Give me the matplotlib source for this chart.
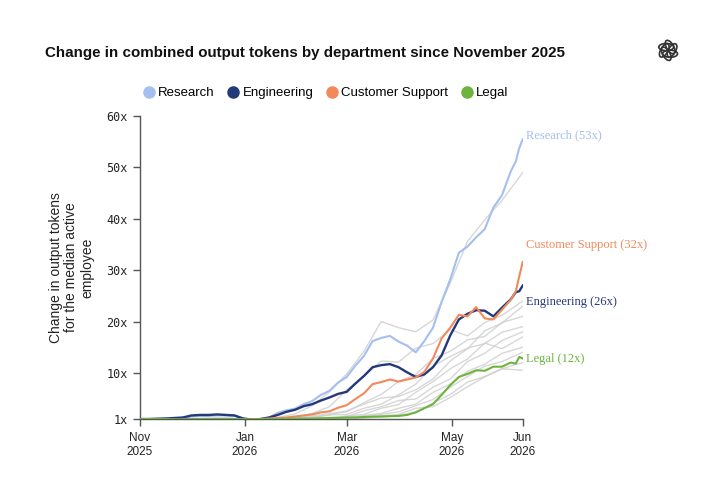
import numpy as np
import pandas as pd
import matplotlib
matplotlib.use('Agg')
import matplotlib.pyplot as plt
from matplotlib.lines import Line2D
from matplotlib.patches import Ellipse

start = pd.Timestamp('2025-11-01')

# days since Nov 1 2025
days = [0, 5, 10, 15, 20, 25, 30, 35, 40, 45, 50, 55, 60, 65, 70, 75, 80, 85, 90, 95,
        100, 105, 110, 115, 120, 125, 130, 135, 140, 145, 150, 155, 160, 165, 170, 175,
        180, 185, 190, 195, 200, 205, 210, 215, 218, 220, 222]

research = [1.0, 1.0, 1.05, 1.1, 1.1, 1.2, 1.5, 1.6, 1.6, 1.7, 1.7, 1.6, 1.1, 0.9, 1.0, 1.3,
            2.2, 2.7, 3.0, 3.9, 4.5, 5.7, 6.5, 8.1, 9.2, 11.4, 13.3, 16.2, 16.8, 17.2, 16.1,
            15.3, 14.0, 16.2, 18.8, 23.8, 28.2, 33.4, 34.6, 36.4, 38.0, 42.2, 44.6, 49.2,
            51.2, 53.8, 55.5]
engineering = [1.0, 1.0, 1.05, 1.1, 1.2, 1.3, 1.7, 1.8, 1.8, 1.9, 1.8, 1.7, 1.1, 0.9, 1.0, 1.3,
               1.8, 2.4, 2.8, 3.5, 3.9, 4.6, 5.2, 5.9, 6.3, 7.9, 9.4, 11.1, 11.5, 11.7, 11.1,
               10.1, 9.2, 9.7, 11.1, 13.4, 17.3, 20.4, 21.5, 22.2, 22.1, 21.0, 22.7, 24.3,
               25.7, 25.9, 27.0]
support = [1.0, 0.95, 0.9, 0.85, 0.85, 0.8, 0.8, 0.85, 0.8, 0.8, 0.85, 0.85, 0.9, 0.9, 1.0, 1.1,
           1.2, 1.3, 1.5, 1.7, 1.9, 2.3, 2.5, 3.2, 3.7, 4.9, 6.0, 7.8, 8.2, 8.7, 8.3,
           8.7, 9.1, 10.2, 12.8, 16.7, 18.8, 21.3, 21.0, 22.8, 20.6, 20.4, 22.3, 24.2,
           25.9, 28.8, 31.6]
legal = [1.0, 1.0, 1.0, 1.0, 0.95, 0.95, 1.0, 1.0, 1.0, 1.0, 1.0, 1.0, 0.95, 0.95, 1.0, 1.0,
         1.05, 1.05, 1.1, 1.1, 1.1, 1.15, 1.2, 1.2, 1.3, 1.3, 1.4, 1.45, 1.5, 1.55, 1.6,
         1.8, 2.3, 3.1, 3.9, 5.7, 7.6, 9.2, 9.8, 10.5, 10.4, 11.2, 11.2, 12.0,
         11.8, 13.1, 12.8]

# other departments (grey), every 10 days
gdays = [0, 10, 20, 30, 40, 50, 60, 70, 80, 90, 100, 110, 120, 130, 140, 150, 160, 170,
         180, 190, 200, 210, 222]
greys = [
    [1.0, 1.0, 1.0, 1.1, 1.2, 1.3, 1.0, 1.0, 1.3, 2.0, 3.6, 6.3, 9.8, 14.2, 20.0, 18.8, 18.0,
     20.3, 27.5, 35.6, 39.8, 43.6, 49.0],
    [1.0, 1.0, 1.0, 1.0, 1.0, 1.0, 1.0, 1.0, 1.0, 1.3, 2.1, 3.4, 6.7, 9.3, 12.3, 12.1, 14.8,
     15.7, 18.4, 17.2, 19.8, 21.2, 24.0],
    [1.0, 1.0, 1.0, 1.0, 1.0, 1.0, 0.9, 1.0, 1.1, 1.3, 1.6, 2.1, 2.4, 4.2, 5.8, 8.3, 9.7,
     12.8, 14.2, 16.4, 17.1, 19.8, 21.0],
    [1.0, 1.0, 1.0, 0.9, 0.9, 0.9, 0.9, 1.0, 1.1, 1.2, 1.4, 1.8, 1.9, 3.1, 3.9, 5.7, 7.8,
     11.3, 13.2, 14.8, 15.7, 17.9, 19.0],
    [1.0, 1.0, 1.0, 1.0, 1.0, 1.0, 1.0, 1.0, 1.0, 1.1, 1.2, 1.3, 1.6, 1.9, 3.1, 3.8, 6.2,
     8.3, 10.8, 12.7, 15.8, 14.7, 17.0],
    [1.0, 1.0, 1.0, 1.0, 1.0, 1.0, 1.0, 1.0, 1.0, 1.0, 1.1, 1.2, 1.3, 1.7, 2.1, 3.1, 3.9,
     6.2, 7.8, 10.3, 11.7, 13.8, 15.0],
    [1.0, 1.0, 1.0, 1.0, 1.0, 1.0, 1.0, 1.0, 1.0, 1.0, 1.0, 1.1, 1.2, 1.5, 1.9, 2.4, 3.6,
     4.8, 7.2, 9.3, 11.3, 12.2, 14.0],
    [1.0, 1.0, 1.0, 1.0, 1.0, 1.0, 1.0, 1.0, 1.0, 1.0, 1.0, 1.0, 1.1, 1.2, 1.4, 1.7, 2.4,
     4.1, 5.8, 8.2, 9.3, 10.8, 10.5],
    [1.0, 1.0, 1.0, 1.0, 1.0, 1.0, 1.0, 1.0, 1.0, 1.1, 1.3, 1.8, 2.6, 3.9, 5.1, 5.4, 6.7,
     8.8, 12.3, 14.7, 18.2, 19.7, 23.0],
    [1.0, 1.0, 1.0, 1.0, 1.0, 1.0, 1.0, 1.0, 1.0, 1.0, 1.1, 1.2, 1.5, 2.6, 3.4, 4.6, 4.9,
     7.2, 8.8, 12.2, 13.8, 16.3, 18.0],
    [1.0, 1.0, 1.0, 1.0, 1.0, 1.0, 1.0, 1.0, 1.0, 1.0, 1.0, 1.1, 1.2, 1.3, 1.6, 1.9, 3.1,
     3.4, 5.2, 7.3, 9.2, 10.8, 12.0],
]

names = ['Research', 'Engineering', 'Customer Support', 'Legal']
colors = ['#a4bff0', '#24397a', '#f08a5c', '#6cb43c']
end_labels = ['Research (53x)', 'Customer Support (32x)', 'Engineering (26x)', 'Legal (12x)']
end_label_colors = ['#a4bff0', '#f08a5c', '#24397a', '#6cb43c']
end_label_y = [56.3, 34.9, 23.8, 12.7]

yticks = [1, 10, 20, 30, 40, 50, 60]
ytick_labels = ['1x', '10x', '20x', '30x', '40x', '50x', '60x']
xtick_dates = ['2025-11-01', '2026-01-01', '2026-03-01', '2026-05-01', '2026-06-11']
xtick_labels = ['Nov\n2025', 'Jan\n2026', 'Mar\n2026', 'May\n2026', 'Jun\n2026']

plt.rcParams['font.family'] = ['Liberation Sans', 'DejaVu Sans']

x = [start + pd.Timedelta(days=d) for d in days]
gx = [start + pd.Timedelta(days=d) for d in gdays]

fig = plt.figure(figsize=(7.2, 4.8), dpi=100)
ax = fig.add_axes([0.194, 0.127, 0.532, 0.631])

for g in greys:
    ax.plot(gx, g, color='#cdcdcd', lw=1.0, alpha=0.8, zorder=1)

series = [research, engineering, support, legal]
widths = [1.5, 1.7, 1.5, 1.5]
for s, c, w in zip(series, colors, widths):
    ax.plot(x, s, color=c, lw=w, zorder=3)

for lab, c, yv in zip(end_labels, end_label_colors, end_label_y):
    ax.text(pd.Timestamp('2026-06-13'), yv, lab, color=c, fontsize=9,
            family=['Liberation Serif'], va='center', ha='left', clip_on=False)

ax.set_ylim(1, 60)
ax.set_xlim(pd.Timestamp('2025-11-01'), pd.Timestamp('2026-06-11'))
ax.set_yticks(yticks)
ax.set_yticklabels(ytick_labels, family=['DejaVu Sans Mono'], fontsize=8.5)
ax.set_xticks([pd.Timestamp(d) for d in xtick_dates])
ax.set_xticklabels(xtick_labels, fontsize=8.5, linespacing=1.25)
for side in ['top', 'right']:
    ax.spines[side].set_visible(False)
for side in ['left', 'bottom']:
    ax.spines[side].set_color('#555555')
    ax.spines[side].set_linewidth(1.0)
ax.tick_params(axis='both', colors='#555555', length=5, width=1.0, labelcolor='#222222')
ax.tick_params(axis='x', pad=4)

ax.set_ylabel('Change in output tokens\nfor the median active\nemployee', fontsize=10,
              color='#222222', labelpad=9, linespacing=1.15)

fig.text(0.062, 0.89, 'Change in combined output tokens by department since November 2025',
         fontsize=10.9, fontweight='bold', color='#111111', va='center')

handles = [Line2D([], [], marker='o', ls='none', markersize=8, markerfacecolor=c,
                  markeredgecolor=c) for c in colors]
fig.legend(handles, names, loc='center', bbox_to_anchor=(0.452, 0.806), ncol=4,
           frameon=False, fontsize=9.5, handletextpad=0.2, columnspacing=0.9,
           handlelength=1.0)

# small logo mark top right
lax = fig.add_axes([0.91, 0.868, 0.036, 0.054])
lax.set_xlim(-1, 1)
lax.set_ylim(-1, 1)
lax.set_aspect('equal')
lax.axis('off')
for k in range(6):
    ang = k * 60
    cx = 0.3 * np.cos(np.radians(ang))
    cy = 0.3 * np.sin(np.radians(ang))
    lax.add_patch(Ellipse((cx, cy), 1.15, 0.55, angle=ang + 60, fill=False,
                          ec='#333333', lw=1.2))

fig.savefig('out.png', dpi=100)
